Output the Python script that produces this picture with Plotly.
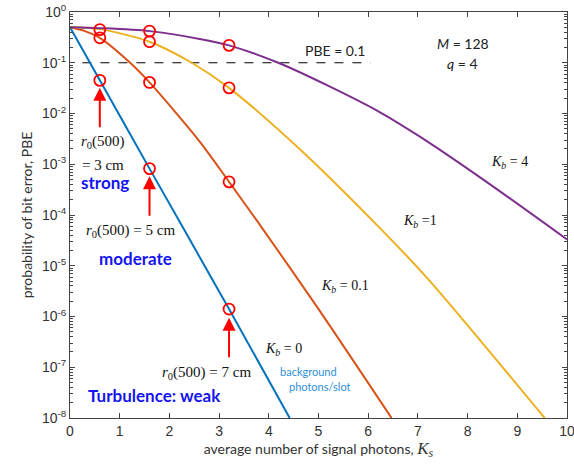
import math
import plotly.graph_objects as go

# ---- data ----
ks_kb0 = [0.0, 0.6, 1.6, 3.2, 4.42]
pbe_kb0 = [0.5, 0.045, 8.2e-4, 1.4e-6, 1e-8]

ks_kb01 = [0.0, 0.3, 0.6, 1.21, 1.6, 2.61, 3.2, 3.75, 4.96, 6.47]
pbe_kb01 = [0.5, 0.42, 0.31, 0.1, 0.041, 2.8e-3, 4.5e-4, 8e-5, 1.6e-6, 1e-8]

ks_kb1 = [0.0, 0.6, 1.6, 2.45, 3.2, 4.62, 6.27, 7.21, 9.55]
pbe_kb1 = [0.5, 0.46, 0.26, 0.1, 0.032, 2.0e-3, 5.1e-5, 5.4e-6, 1e-8]

ks_kb4 = [0.0, 0.6, 1.6, 2.61, 3.2, 4.19, 5.2, 6.23, 7.04, 8.38, 10.0]
pbe_kb4 = [0.5, 0.48, 0.42, 0.295, 0.22, 0.1, 0.035, 0.0107, 3.5e-3, 4.5e-4, 3.3e-5]

circle_ks = [0.6, 0.6, 0.6, 1.6, 1.6, 1.6, 1.6, 3.2, 3.2, 3.2, 3.2]
circle_pbe = [0.45, 0.31, 0.045, 0.42, 0.26, 0.041, 8.2e-4, 0.22, 0.032, 4.5e-4, 1.4e-6]

pbe_ref_ks = [0.25, 6.05]
pbe_ref = [0.1, 0.1]

arrow_ks = [0.6, 1.6, 3.2]
arrow_tip_pbe = [0.032, 5.8e-4, 9.5e-7]

x_ticks = list(range(0, 11))
y_tickvals = [1e-8, 1e-7, 1e-6, 1e-5, 1e-4, 1e-3, 1e-2, 1e-1, 1e0]
y_ticktext = ["10<sup>-8</sup>", "10<sup>-7</sup>", "10<sup>-6</sup>", "10<sup>-5</sup>",
              "10<sup>-4</sup>", "10<sup>-3</sup>", "10<sup>-2</sup>", "10<sup>-1</sup>",
              "10<sup>0</sup>"]
y_minor_vals = [m * d for d in y_tickvals[:-1] for m in range(2, 10)]

BLUE = "#0072BD"
ORANGE = "#D95319"
YELLOW = "#EDB120"
PURPLE = "#7E2F8E"

fig = go.Figure()

fig.add_trace(go.Scatter(x=pbe_ref_ks, y=pbe_ref, mode="lines",
                         line=dict(color="black", width=1, dash="dash"), showlegend=False))

for xs, ys, c in [(ks_kb0, pbe_kb0, BLUE), (ks_kb01, pbe_kb01, ORANGE),
                  (ks_kb1, pbe_kb1, YELLOW), (ks_kb4, pbe_kb4, PURPLE)]:
    fig.add_trace(go.Scatter(x=xs, y=ys, mode="lines",
                             line=dict(color=c, width=2, shape="spline", smoothing=0.8),
                             showlegend=False))

fig.add_trace(go.Scatter(x=circle_ks, y=circle_pbe, mode="markers",
                         marker=dict(symbol="circle-open", size=11, color="#FF0000",
                                     line=dict(width=1.8, color="#FF0000")),
                         showlegend=False))

for xk, yt in zip(arrow_ks, arrow_tip_pbe):
    fig.add_annotation(x=xk, y=math.log10(yt), xref="x", yref="y", text="",
                       showarrow=True, ax=0, ay=41, arrowhead=2, arrowsize=1.3,
                       arrowwidth=2, arrowcolor="#FF0000")

SERIF = "Liberation Serif"
SANS = "Lato"
texts = [
    (5.33, -0.756, "PBE = 0.1", dict(family=SANS, size=14, color="#222")),
    (7.90, -0.62, "<i>M</i> = 128", dict(family=SANS, size=14, color="#222")),
    (7.90, -1.01, "<i>q</i> = 4", dict(family=SANS, size=14, color="#222")),
    (8.85, -2.96, "<i>K</i><sub><i>b</i></sub> = 4", dict(family=SERIF, size=14, color="#111")),
    (7.04, -4.13, "<i>K</i><sub><i>b</i></sub> =1", dict(family=SERIF, size=14, color="#111")),
    (5.53, -5.41, "<i>K</i><sub><i>b</i></sub> = 0.1", dict(family=SERIF, size=14, color="#111")),
    (4.29, -6.65, "<i>K</i><sub><i>b</i></sub> = 0", dict(family=SERIF, size=14, color="#111")),
    (4.79, -7.08, "background", dict(family=SANS, size=11, color="#2E8FD6")),
    (5.03, -7.38, "photons/slot", dict(family=SANS, size=11, color="#2E8FD6")),
    (0.67, -2.56, "<i>r</i><sub>0</sub>(500)", dict(family=SERIF, size=15, color="#111")),
    (0.67, -3.02, "= 3 cm", dict(family=SERIF, size=15, color="#111")),
    (0.70, -3.36, "<b>strong</b>", dict(family=SANS, size=17, color="#1414F0")),
    (1.21, -4.31, "<i>r</i><sub>0</sub>(500) = 5 cm", dict(family=SERIF, size=15, color="#111")),
    (1.31, -4.85, "<b>moderate</b>", dict(family=SANS, size=17, color="#1414F0")),
    (2.75, -7.11, "<i>r</i><sub>0</sub>(500) = 7 cm", dict(family=SERIF, size=15, color="#111")),
    (1.71, -7.55, "<b>Turbulence: weak</b>", dict(family=SANS, size=17, color="#1414F0")),
]
for x, y, t, f in texts:
    fig.add_annotation(x=x, y=y, xref="x", yref="y", text=t, showarrow=False,
                       font=f, xanchor="center", yanchor="middle")

axis_color = "#444"
fig.update_xaxes(range=[0, 10], tickvals=x_ticks, ticks="inside", ticklen=5,
                 showline=True, linecolor=axis_color, linewidth=1, mirror="ticks",
                 tickcolor=axis_color, showgrid=False, zeroline=False, automargin=False,
                 ticklabeloverflow="allow",
                 tickfont=dict(family="Liberation Sans", size=14, color="#333"),
                 title=dict(text="average number of signal photons, <i><span style='font-family:Liberation Serif;font-size:17px'>K<sub>s</sub></span></i>",
                            font=dict(family=SANS, size=14, color="#333"), standoff=4))
fig.update_yaxes(type="log", range=[-8, 0], tickvals=y_tickvals, ticktext=y_ticktext,
                 ticks="inside", ticklen=5, showline=True, linecolor=axis_color,
                 linewidth=1, mirror="ticks", tickcolor=axis_color, showgrid=False,
                 zeroline=False, automargin=False, ticklabeloverflow="allow",
                 minor=dict(tickvals=y_minor_vals, ticks="inside", ticklen=3,
                            tickcolor=axis_color, showgrid=False),
                 tickfont=dict(family="Liberation Sans", size=14, color="#333"),
                 title=dict(text="probability of bit error, PBE",
                            font=dict(family=SANS, size=14, color="#333"), standoff=6))

fig.update_layout(width=574, height=464, margin=dict(l=70, r=7, t=12, b=46),
                  plot_bgcolor="white", paper_bgcolor="white", showlegend=False)

fig.write_html("out.html", config={"displayModeBar": False},
               post_script="document.body.style.margin='0';document.body.style.overflow='hidden';")
